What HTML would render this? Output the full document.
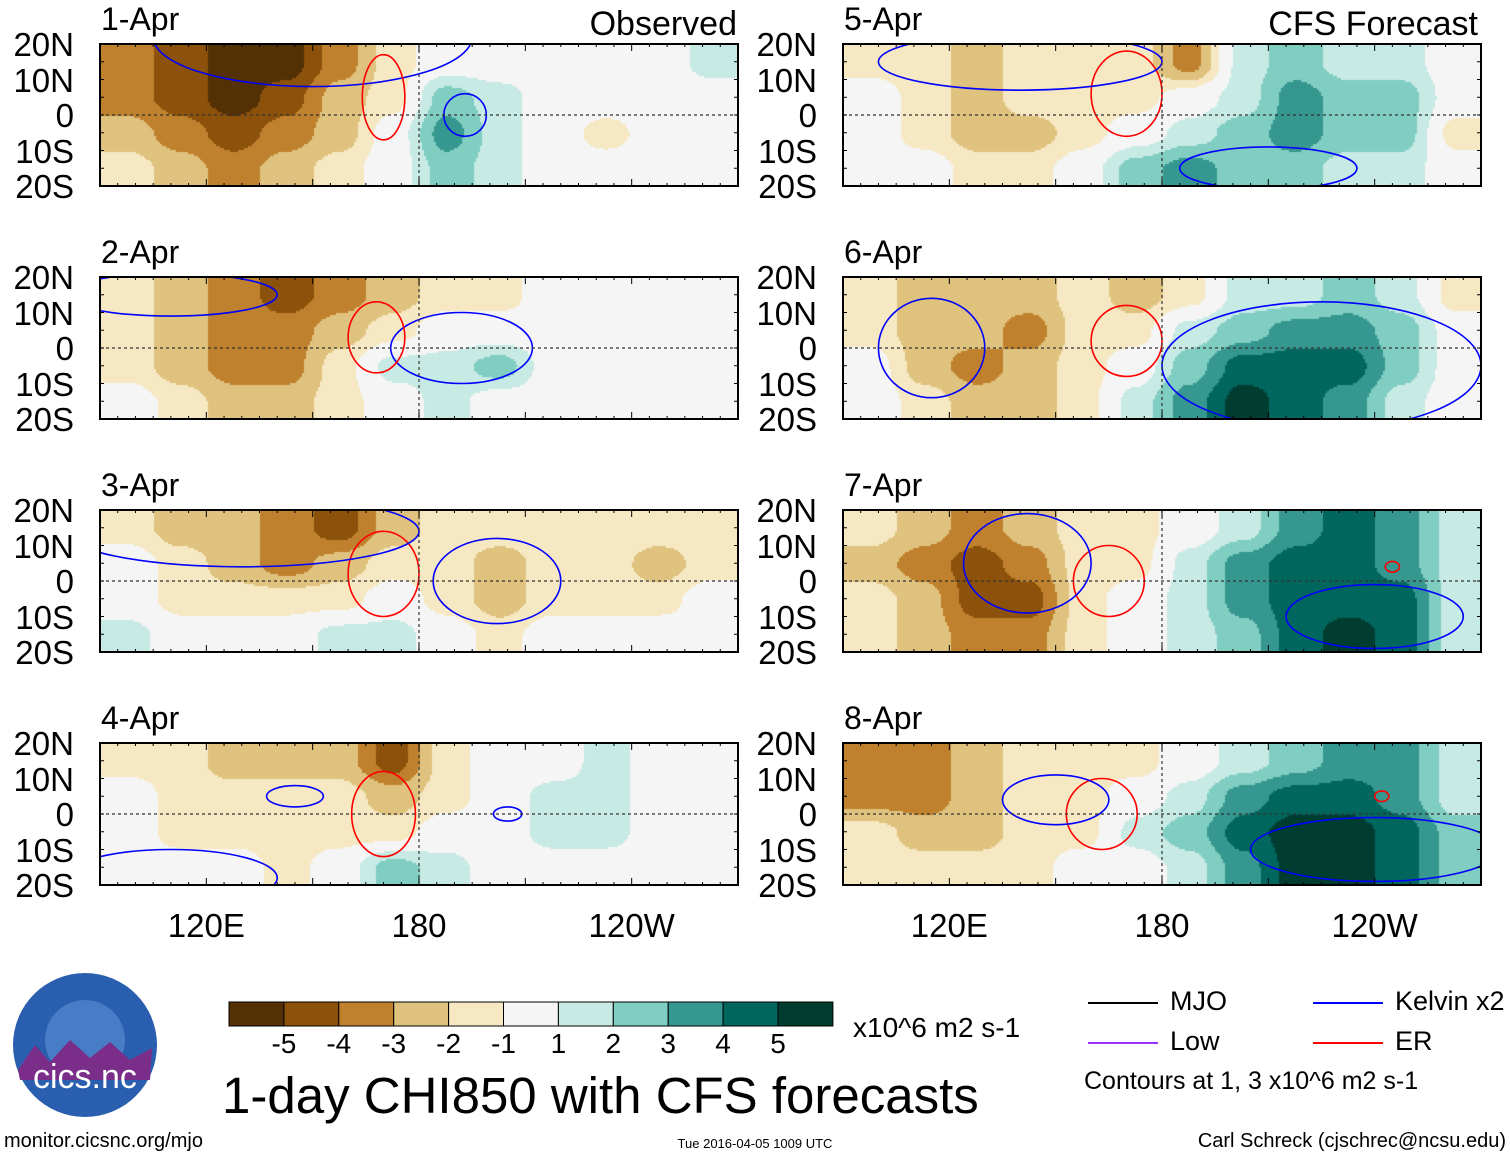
<!DOCTYPE html>
<html><head><meta charset="utf-8">
<style>
body{margin:0;background:#fff;width:1510px;height:1158px;overflow:hidden;position:relative;font-family:"Liberation Sans",sans-serif;}
.t{position:absolute;white-space:nowrap;color:#000;}
canvas{position:absolute;}
svg{position:absolute;left:0;top:0;}
</style></head><body>
<svg id="ov" width="1510" height="1158"></svg>
<script>
// Panel data: 12 lon columns (90E..270E, 15 deg each) x 4 lat rows (20N..20S)
const panelTitles=["1-Apr","2-Apr","3-Apr","4-Apr","5-Apr","6-Apr","7-Apr","8-Apr"];
const chi1=[[-3,-4,-5,-5,-3,-1,0,0,0,0,0,1],[-3,-4,-5,-4,-2,-1,2,1,0,0,0,0],[-2,-3,-4,-3,-2,0,3,1,0,-1,0,0],[-1,-2,-3,-2,-1,0,2,1,0,0,0,0]];
const chi2=[[-1,-2,-3,-4,-3,-2,-1,-1,0,0,0,0],[-1,-2,-3,-3,-2,-1,0,0,0,0,0,0],[-1,-2,-3,-3,-1,1,1,2,0,0,0,0],[0,-1,-2,-2,-1,0,1,0,0,0,0,0]];
const chi3=[[-1,-2,-2,-3,-4,-2,-1,-1,-1,-1,-1,-1],[0,-1,-2,-3,-2,-1,-1,-2,-1,-1,-2,-1],[0,-1,-1,-1,-1,0,-1,-2,-1,-1,-1,0],[1,0,0,0,1,1,0,-1,0,0,0,0]];
const chi4=[[-1,-1,-2,-2,-2,-4,-1,0,0,1,0,0],[0,-1,-1,-1,-1,-2,-1,0,1,1,0,0],[0,-1,-1,-1,-1,-1,0,0,1,1,0,0],[0,0,0,-1,0,2,1,0,0,0,0,0]];
const chi5=[[-1,-1,-2,-1,-1,-1,-3,1,2,1,1,0],[0,-1,-2,-1,-1,-1,0,1,3,2,2,0],[0,-1,-2,-2,-1,0,1,2,3,2,2,-1],[0,0,-1,-1,0,2,3,2,2,1,1,0]];
const chi6=[[-1,-2,-2,-2,-1,-2,-1,1,1,2,1,-1],[-1,-2,-2,-3,-1,-1,1,2,3,3,2,0],[0,-2,-3,-2,-1,0,2,4,4,4,2,0],[0,-1,-2,-2,-1,1,3,5,4,3,1,0]];
const chi7=[[-1,-2,-3,-2,-1,-1,0,1,3,4,3,1],[-2,-3,-4,-3,-1,-1,1,3,4,4,3,1],[-1,-2,-4,-4,-1,0,1,3,4,4,4,1],[-1,-2,-3,-3,-1,0,1,2,4,5,4,1]];
const chi8=[[-3,-3,-2,-1,-1,-1,0,1,2,3,3,1],[-3,-3,-2,-1,-1,0,1,3,4,4,3,1],[-1,-2,-2,-1,-1,1,2,4,5,5,4,2],[-1,-1,-1,-1,0,0,1,3,5,5,4,2]];
// contours: [centerLon, centerLat, radiusLon, radiusLat, type]  type: K=Kelvin, E=ER
const cont1=[[150,22,45,14,"K"],[193,0,6,6,"K"],[170,5,6,12,"E"]];
const cont2=[[192,0,20,10,"K"],[168,3,8,10,"E"],[110,15,30,6,"K"]];
const cont3=[[202,0,18,12,"K"],[170,2,10,12,"E"],[130,14,50,10,"K"]];
const cont4=[[145,5,8,3,"K"],[170,0,9,12,"E"],[205,0,4,2,"K"],[110,-18,30,8,"K"]];
const cont5=[[170,6,10,12,"E"],[210,-15,25,6,"K"],[140,15,40,8,"K"]];
const cont6=[[170,2,10,10,"E"],[225,-5,45,18,"K"],[115,0,15,14,"K"]];
const cont7=[[165,0,10,10,"E"],[240,-10,25,9,"K"],[142,5,18,14,"K"],[245,4,2,1.5,"E"]];
const cont8=[[163,0,10,10,"E"],[240,-10,35,9,"K"],[150,4,15,7,"K"],[242,5,2,1.5,"E"]];
const cbLabels=["-5","-4","-3","-2","-1","1","2","3","4","5"];
const latLabels=["20N","10N","0","10S","20S"];
const lonLabels=[["120E",120],["180",180],["120W",240]];

const allChi=[chi1,chi2,chi3,chi4,chi5,chi6,chi7,chi8];
const allCont=[cont1,cont2,cont3,cont4,cont5,cont6,cont7,cont8];
const colors=["#543005","#8c510a","#bf812d","#dfc27d","#f6e8c3","#f5f5f5","#c7eae5","#80cdc1","#35978f","#01665e","#003c30"];
const W=638,H=142,tops=[44,277,510,743],lefts=[100,843];
const NS="http://www.w3.org/2000/svg";
const ov=document.getElementById('ov');
function lx(x0,lon){return x0+(lon-90)/180*W;}
function ly(y0,lat){return y0+(20-lat)/40*H;}
function mk(tag,attrs,parent){const e=document.createElementNS(NS,tag);for(const k in attrs)e.setAttribute(k,attrs[k]);(parent||ov).appendChild(e);return e;}
function txt(s,x,y,size,anchor,name){const d=document.createElement('div');d.className='t';d.textContent=s;d.style.fontSize=size+'px';d.style.top=y+'px';
 if(anchor==='r'){d.style.right=(1510-x)+'px';}else if(anchor==='c'){d.style.left=x+'px';d.style.transform='translateX(-50%)';}else d.style.left=x+'px';
 
 
 document.body.appendChild(d);return d;}
function sample(g,fx,fy){
 let cx=Math.min(Math.max(fx-0.5,0),11),cy=Math.min(Math.max(fy-0.5,0),3);
 const i=Math.min(Math.floor(cx),10),j=Math.min(Math.floor(cy),2);
 let u=cx-i,v=cy-j;u=u*u*(3-2*u);v=v*v*(3-2*v);
 return g[j][i]*(1-u)*(1-v)+g[j][i+1]*u*(1-v)+g[j+1][i]*(1-u)*v+g[j+1][i+1]*u*v;}
function idx(v){if(v<=-4.5)return 0;if(v<=-3.5)return 1;if(v<=-2.5)return 2;if(v<=-1.5)return 3;if(v<=-0.6)return 4;if(v<0.6)return 5;if(v<1.5)return 6;if(v<2.5)return 7;if(v<3.5)return 8;if(v<4.5)return 9;return 10;}
for(let p=0;p<8;p++){
 const x0=lefts[Math.floor(p/4)],y0=tops[p%4],g=allChi[p];
 const c=document.createElement('canvas');c.width=W;c.height=H;c.style.left=x0+'px';c.style.top=y0+'px';
 
 
 document.body.insertBefore(c,ov);
 const ctx=c.getContext('2d');
 for(let y=0;y<H;y+=2)for(let x=0;x<W;x+=2){ctx.fillStyle=colors[idx(sample(g,x/W*12,y/H*4))];ctx.fillRect(x,y,2,2);}
 const grp=mk('g',{});
 
 
 const cid='clip'+p;const cp=mk('clipPath',{id:cid},grp);mk('rect',{x:x0,y:y0,width:W,height:H},cp);
 const cg=mk('g',{'clip-path':'url(#'+cid+')'},grp);
 allCont[p].forEach(e=>{const el=mk('ellipse',{cx:lx(x0,e[0]),cy:ly(y0,e[1]),rx:e[2]/180*W,ry:e[3]/40*H,fill:'none',stroke:e[4]==='K'?'#0000ff':'#ff0000','stroke-width':1.6},cg);
  
  });
 mk('line',{x1:x0,x2:x0+W,y1:ly(y0,0),y2:ly(y0,0),stroke:'#333','stroke-dasharray':'3,3','stroke-width':1.2},grp);
 mk('line',{x1:lx(x0,180),x2:lx(x0,180),y1:y0,y2:y0+H,stroke:'#333','stroke-dasharray':'3,3','stroke-width':1.2},grp);
 for(let lon=90;lon<=270;lon+=5){const xx=lx(x0,lon),L=lon%30===0?7:3;
  mk('line',{x1:xx,x2:xx,y1:y0,y2:y0+L,stroke:'#000'},grp);mk('line',{x1:xx,x2:xx,y1:y0+H,y2:y0+H-L,stroke:'#000'},grp);}
 for(let lat=-20;lat<=20;lat+=5){const yy=ly(y0,lat);mk('line',{x1:x0,x2:x0+4,y1:yy,y2:yy,stroke:'#000'},grp);mk('line',{x1:x0+W,x2:x0+W-4,y1:yy,y2:yy,stroke:'#000'},grp);}
 mk('rect',{x:x0,y:y0,width:W,height:H,fill:'none',stroke:'#000','stroke-width':2},grp);
 txt(panelTitles[p],x0+1,y0-43,32,'l','panel-title');
 latLabels.forEach((s,i)=>txt(s,x0-26,y0-18+i*35.5,33,'r','lat-label'));
 if(p%4===3)lonLabels.forEach(l=>txt(l[0],lx(x0,l[1]),y0+H+22,33,'c','lon-label'));
}
txt("Observed",737,5,34,'r','observed-label');
txt("CFS Forecast",1478,5,34,'r','cfs-forecast-label');
for(let i=0;i<11;i++){const r=mk('rect',{x:229+i*54.9,y:1002,width:54.9,height:24,fill:colors[i],stroke:'#000','stroke-width':1});
 
 }
cbLabels.forEach((s,i)=>txt(s,229+(i+1)*54.9,1028,28,'c','colorbar-label'));
txt("x10^6 m2 s-1",853,1012,28,'l','units-label');
txt("1-day CHI850 with CFS forecasts",222,1066,51,'l','main-title');
[["MJO","#000",1088,1003],["Low","#9b30ff",1088,1043],["Kelvin x2","#0000ff",1313,1003],["ER","#ff0000",1313,1043]].forEach(l=>{
 const ln=mk('line',{x1:l[2],x2:l[2]+70,y1:l[3],y2:l[3],stroke:l[1],'stroke-width':2});
 
 
 txt(l[0],l[2]+82,l[3]-17,27,'l','legend-entry');});
txt("Contours at 1, 3 x10^6 m2 s-1",1084,1067,25,'l','contour-note');
const lc=mk('circle',{cx:85,cy:1045,r:72,fill:'#2a5fb0'});


mk('circle',{cx:85,cy:1040,r:40,fill:'#5d8fd6',opacity:0.6});
mk('path',{d:'M18,1070 L35,1045 L50,1062 L70,1040 L90,1058 L110,1042 L130,1060 L152,1048 L150,1080 L20,1080 Z',fill:'#7a2e8a'});
txt("cics.nc",33,1058,34,'l','logo-text').style.color='#fff';
txt("monitor.cicsnc.org/mjo",4,1130,20,'l','site-url');
txt("Tue 2016-04-05 1009 UTC",755,1136,13,'c','timestamp');
txt("Carl Schreck (cjschrec@ncsu.edu)",1506,1130,20,'r','author');
</script>
</body></html>
